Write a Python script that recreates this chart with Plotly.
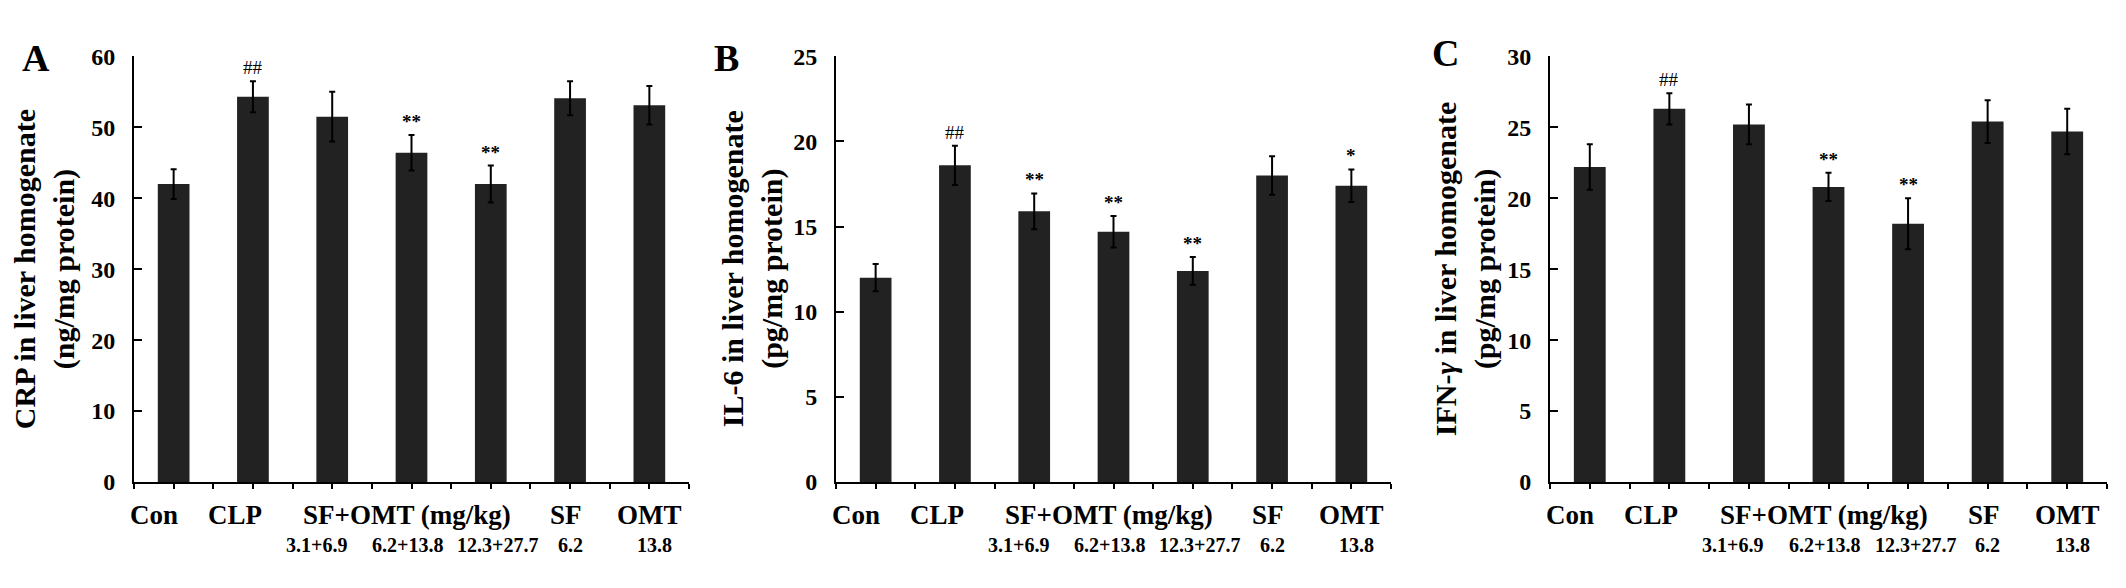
import plotly.graph_objects as go

# group names (one bar each)
groups = ["Con", "CLP", "SF+OMT 3.1+6.9", "SF+OMT 6.2+13.8", "SF+OMT 12.3+27.7", "SF 6.2", "OMT 13.8"]

# category labels under the axis
top_labels = ["Con", "CLP", "SF+OMT (mg/kg)", "SF", "OMT"]
top_label_pos = [0, 1, 3, 5, 6]
dose_labels = ["", "", "3.1+6.9", "6.2+13.8", "12.3+27.7", "6.2", "13.8"]

# panel A: CRP
crp_mean = [42.0, 54.3, 51.5, 46.4, 42.0, 54.1, 53.1]
crp_err = [2.1, 2.2, 3.5, 2.5, 2.6, 2.4, 2.7]
crp_sig = ["", "##", "", "**", "**", "", ""]

# panel B: IL-6
il6_mean = [12.0, 18.6, 15.9, 14.7, 12.4, 18.0, 17.4]
il6_err = [0.8, 1.15, 1.05, 0.92, 0.82, 1.13, 0.96]
il6_sig = ["", "##", "**", "**", "**", "", "*"]

# panel C: IFN-gamma
ifn_mean = [22.2, 26.3, 25.2, 20.8, 18.2, 25.4, 24.7]
ifn_err = [1.6, 1.1, 1.4, 1.0, 1.8, 1.5, 1.6]
ifn_sig = ["", "##", "", "**", "**", "", ""]

# page is 2126x588; the html body keeps its default 8px margin
OFF = 8
W, H = 2126 - 2 * OFF, 588 - 2 * OFF
FONT = "Liberation Serif"
BAR = "#222222"


def px(x):
    return (x - OFF) / W


def py(y):
    return 1 - (y - OFF) / H


panels = [
    dict(letter="A", mean=crp_mean, err=crp_err, sig=crp_sig, ymax=60, dtick=10,
         title="CRP in liver homogenate<br>(ng/mg protein)",
         x0=134, x1=689, title_x=44, letter_xy=(36, 47)),
    dict(letter="B", mean=il6_mean, err=il6_err, sig=il6_sig, ymax=25, dtick=5,
         title="IL-6 in liver homogenate<br>(pg/mg protein)",
         x0=836, x1=1391, title_x=752, letter_xy=(726, 47)),
    dict(letter="C", mean=ifn_mean, err=ifn_err, sig=ifn_sig, ymax=30, dtick=5,
         title="IFN-<i>γ</i> in liver homogenate<br>(pg/mg protein)",
         x0=1550, x1=2107, title_x=1465, letter_xy=(1445, 42)),
]

y_top, y_bot = 45, 491
top_shift = [-20, -18, -5, -4, 0]
dose_shift = [0, 0, -16, -4, 7, 0, 5]

fig = go.Figure()
annotations = []
xs = list(range(len(groups)))

for i, p in enumerate(panels):
    n = "" if i == 0 else str(i + 1)
    fig.add_trace(go.Bar(
        x=xs, y=p["mean"], width=0.4,
        marker=dict(color=BAR, line=dict(width=0)),
        error_y=dict(type="data", array=p["err"], color="black", thickness=2, width=3),
        xaxis="x" + n, yaxis="y" + n,
        showlegend=False, hoverinfo="skip",
    ))

    fig.update_layout(**{
        "xaxis" + n: dict(
            domain=[px(p["x0"]), px(p["x1"])], anchor="y" + n,
            range=[-0.5, len(groups) - 0.5],
            tickvals=[k / 2 - 0.5 for k in range(2 * len(groups) + 1)],
            showticklabels=False, ticks="outside", ticklen=5, tickwidth=2,
            tickcolor="black", showline=True, linecolor="black", linewidth=2,
            showgrid=False, zeroline=False, fixedrange=True,
        ),
        "yaxis" + n: dict(
            domain=[py(y_bot), py(y_top)], anchor="x" + n,
            range=[0, p["ymax"]], dtick=p["dtick"],
            ticks="inside", ticklen=8, tickwidth=2, tickcolor="black",
            showline=True, linecolor="black", linewidth=2,
            showgrid=False, zeroline=False, ticklabelstandoff=12,
            tickfont=dict(family=FONT, size=24, color="black", weight="bold"),
        ),
    })

    # significance marks above the error bars
    for k, s in enumerate(p["sig"]):
        if s:
            annotations.append(dict(
                x=xs[k], y=p["mean"][k] + p["err"][k], xref="x" + n, yref="y" + n,
                text=s, showarrow=False, yanchor="bottom", yshift=1,
                font=dict(family=FONT, size=19, color="black",
                          weight="normal" if s == "##" else "bold"),
            ))

    # category labels
    for lab, pos, sh in zip(top_labels, top_label_pos, top_shift):
        annotations.append(dict(
            x=pos, y=py(526), xref="x" + n, yref="paper", text=lab,
            showarrow=False, xshift=sh, yanchor="middle",
            font=dict(family=FONT, size=27, color="black", weight="bold"),
        ))
    for k, lab in enumerate(dose_labels):
        if lab:
            annotations.append(dict(
                x=xs[k], y=py(557), xref="x" + n, yref="paper", text=lab,
                showarrow=False, xshift=dose_shift[k], yanchor="middle",
                font=dict(family=FONT, size=20, color="black", weight="bold"),
            ))

    # y-axis title
    annotations.append(dict(
        x=px(p["title_x"]), y=py((y_top + y_bot) / 2), xref="paper", yref="paper",
        text=p["title"], textangle=-90, showarrow=False,
        xanchor="center", yanchor="middle",
        font=dict(family=FONT, size=30, color="black", weight="bold"),
    ))

    # panel letter
    lx, ly = p["letter_xy"]
    annotations.append(dict(
        x=px(lx), y=py(ly), xref="paper", yref="paper", text=p["letter"],
        showarrow=False, xanchor="center", yanchor="middle",
        font=dict(family=FONT, size=38, color="black", weight="bold"),
    ))

fig.update_layout(
    width=W, height=H,
    margin=dict(l=0, r=0, t=0, b=0, pad=0),
    paper_bgcolor="white", plot_bgcolor="white",
    bargap=0.6,
    annotations=annotations,
)

fig.write_html("out.html", config={"displayModeBar": False})
